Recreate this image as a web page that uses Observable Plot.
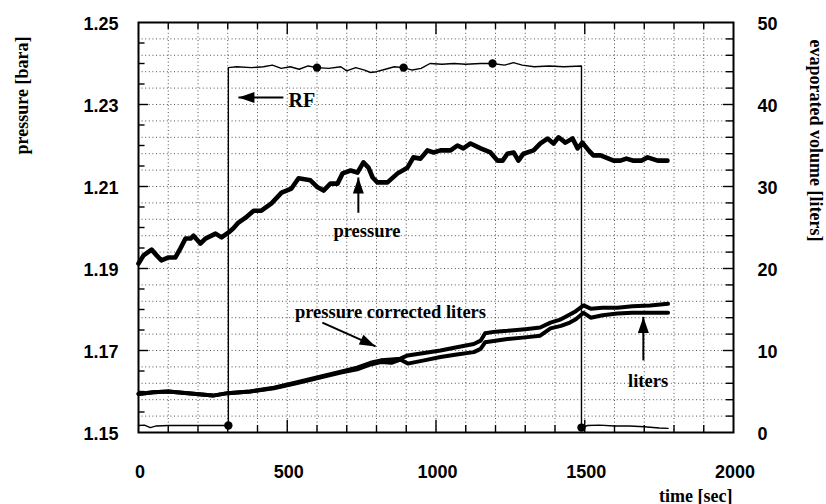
<!DOCTYPE html>
<html><head><meta charset="utf-8">
<script src="https://cdn.jsdelivr.net/npm/d3@7"></script>
<script src="https://cdn.jsdelivr.net/npm/@observablehq/plot@0.6"></script>
<style>body{margin:0;background:#fff}</style>
</head><body><div id="chart"></div><script>
// ---- data ----
const timeTickLabels = [0, 500, 1000, 1500, 2000];
const pressureTickLabels = [1.15, 1.17, 1.19, 1.21, 1.23, 1.25];
const volumeTickLabels = [0, 10, 20, 30, 40, 50];

const pressureTime = [0, 17, 44, 61, 77, 101, 124, 141, 158, 175, 185, 208, 225, 259, 279, 303, 319, 336, 360, 387, 413, 447, 481, 514, 538, 578, 602, 622, 645, 669, 686, 713, 736, 756, 773, 787, 803, 837, 871, 904, 924, 948, 971, 992, 1015, 1049, 1072, 1092, 1116, 1150, 1183, 1207, 1224, 1240, 1261, 1277, 1294, 1328, 1351, 1375, 1395, 1412, 1435, 1459, 1476, 1492, 1513, 1529, 1553, 1597, 1620, 1640, 1664, 1690, 1711, 1745, 1778];
const pressureBara = [1.1912, 1.1932, 1.1946, 1.1932, 1.1920, 1.1927, 1.1927, 1.1949, 1.1973, 1.1973, 1.1980, 1.1961, 1.1973, 1.1985, 1.1976, 1.1988, 1.1998, 1.2012, 1.2024, 1.2041, 1.2041, 1.2059, 1.2085, 1.2095, 1.2120, 1.2115, 1.2098, 1.2090, 1.2107, 1.2107, 1.2132, 1.2139, 1.2134, 1.2159, 1.2146, 1.2122, 1.2110, 1.2110, 1.2132, 1.2146, 1.2171, 1.2168, 1.2188, 1.2183, 1.2188, 1.2188, 1.2200, 1.2193, 1.2205, 1.2193, 1.2183, 1.2163, 1.2163, 1.2180, 1.2183, 1.2163, 1.2180, 1.2188, 1.2205, 1.2217, 1.2205, 1.2220, 1.2207, 1.2217, 1.2193, 1.2207, 1.2188, 1.2176, 1.2176, 1.2163, 1.2163, 1.2168, 1.2163, 1.2163, 1.2171, 1.2163, 1.2163];

const litersTime = [0, 50, 100, 175, 250, 300, 375, 455, 530, 610, 680, 735, 780, 815, 850, 880, 905, 960, 1015, 1070, 1127, 1150, 1165, 1200, 1240, 1300, 1350, 1385, 1420, 1450, 1470, 1496, 1520, 1560, 1610, 1660, 1720, 1780];
const correctedLiters = [4.7, 4.9, 5.0, 4.75, 4.5, 4.8, 5.0, 5.45, 6.1, 6.8, 7.4, 7.9, 8.5, 8.8, 8.9, 9.0, 9.4, 9.7, 10.0, 10.4, 10.8, 11.2, 12.1, 12.3, 12.4, 12.6, 12.8, 13.4, 13.8, 14.4, 14.8, 15.5, 15.1, 15.2, 15.2, 15.4, 15.5, 15.7];
const liters = [4.7, 4.9, 5.0, 4.75, 4.5, 4.8, 5.0, 5.4, 6.0, 6.7, 7.3, 7.7, 8.3, 8.6, 8.5, 8.9, 8.4, 8.8, 9.2, 9.5, 9.8, 10.2, 11.0, 11.2, 11.4, 11.6, 11.8, 12.7, 13.0, 13.4, 13.8, 14.6, 14.0, 14.3, 14.5, 14.6, 14.6, 14.6];

const rfTime = [0, 20, 40, 60, 100, 200, 302, 302, 330, 380, 420, 450, 480, 510, 540, 570, 600, 640, 680, 700, 730, 760, 780, 800, 830, 860, 891, 920, 950, 980, 1020, 1060, 1100, 1150, 1190, 1230, 1260, 1290, 1330, 1380, 1430, 1489, 1489, 1510, 1550, 1600, 1650, 1700, 1750, 1780];
const rfLevel = [0.85, 0.9, 0.6, 0.8, 0.85, 0.85, 0.85, 44.5, 44.6, 44.5, 44.6, 44.8, 44.4, 44.6, 44.3, 44.7, 44.5, 44.4, 44.6, 44.1, 44.5, 44.2, 43.9, 44.0, 44.3, 44.6, 44.5, 44.2, 44.4, 45.0, 44.9, 45.0, 44.9, 45.0, 45.0, 44.8, 45.1, 44.8, 44.6, 44.7, 44.6, 44.7, 0.6, 0.85, 0.9, 0.8, 0.8, 0.7, 0.55, 0.5];
const rfMarkTime = [302, 600, 891, 1190, 1489];
const rfMarkLevel = [0.85, 44.5, 44.5, 45.0, 0.6];

// annotations (data coordinates: time, liters)
const noteLabels = ["RF", "pressure", "pressure corrected liters", "liters"];
const noteTime = [504, 768, 847, 1713];
const noteLevel = [40.5, 23.8, 14.0, 5.5];
const arrowFromTime = [487, 739, 618, 1697];
const arrowFromLevel = [40.85, 26.8, 13.4, 8.8];
const arrowToTime = [336, 739, 797, 1697];
const arrowToLevel = [40.85, 31.1, 10.5, 14.1];
const arrowAngle = [-90, 0, 115, 0];

// ---- helpers ----
const P0 = 1.15, P1 = 1.25, V1 = 50;
const pToV = p => (p - P0) / (P1 - P0) * V1;   // pressure -> right-axis units

const pressure = pressureTime.map((t, i) => ({t, v: pToV(pressureBara[i])}));
const corr = litersTime.map((t, i) => ({t, v: correctedLiters[i]}));
const lit = litersTime.map((t, i) => ({t, v: liters[i]}));
const rf = rfTime.map((t, i) => ({t, v: rfLevel[i]}));
const rfMarks = rfMarkTime.map((t, i) => ({t, v: rfMarkLevel[i]}));
const notes = noteLabels.map((s, i) => ({s, t: noteTime[i], v: noteLevel[i]}));
const arrows = arrowFromTime.map((t, i) => ({t1: t, v1: arrowFromLevel[i], t2: arrowToTime[i], v2: arrowToLevel[i], a: arrowAngle[i]}));

const xMinor = d3.range(1, 20).map(i => i * 100);
const yGrid = d3.range(1, 25).map(i => i * 2);
const leftMinor = d3.range(1, 20).map(i => i * 2.5);

const head = {draw(ctx) { ctx.moveTo(0, 0); ctx.lineTo(5.5, 16); ctx.lineTo(-5.5, 16); ctx.closePath(); }};

const serif = "Liberation Serif, Times New Roman, serif";
const sans = "Liberation Sans, Arial, sans-serif";
const grid = {stroke: "#333", strokeDasharray: "1,2.6", strokeWidth: 1, strokeOpacity: 0.85};
const tk = {stroke: "black", strokeWidth: 1.4};
const tickFont = {fontFamily: sans, fontSize: 18, fontWeight: "bold", fill: "black"};

const chart = Plot.plot({
  width: 826, height: 504,
  marginLeft: 138, marginRight: 93, marginTop: 22, marginBottom: 72,
  style: {background: "white", fontFamily: serif},
  x: {domain: [0, 2000], axis: null},
  y: {domain: [0, V1], axis: null},
  marks: [
    Plot.ruleX(xMinor, {x: d => d, ...grid}),
    Plot.ruleY(yGrid, {y: d => d, ...grid}),
    // inward ticks
    Plot.ruleX(xMinor, {x: d => d, y1: 0, y2: d => d % 500 === 0 ? 1.5 : 0.85, ...tk}),
    Plot.ruleX(xMinor, {x: d => d, y1: V1, y2: d => V1 - (d % 500 === 0 ? 1.5 : 0.85), ...tk}),
    Plot.ruleY(leftMinor, {y: d => d, x1: 0, x2: d => d % 10 === 0 ? 34 : 22, ...tk}),
    Plot.ruleY(yGrid, {y: d => d, x1: 2000, x2: d => 2000 - (d % 10 === 0 ? 34 : 24), ...tk}),
    Plot.frame({stroke: "black", strokeWidth: 2}),
    // tick labels
    Plot.text(timeTickLabels, {x: d => d, text: d => String(d), frameAnchor: "bottom", dy: 45, dx: 1.5, lineAnchor: "bottom", ariaLabel: "ticklabels", ...tickFont}),
    Plot.text(pressureTickLabels, {y: d => pToV(d), text: d => d.toFixed(2), frameAnchor: "left", dx: -20, dy: 2, textAnchor: "end", lineAnchor: "middle", ariaLabel: "ticklabels", ...tickFont}),
    Plot.text(volumeTickLabels, {y: d => d, text: d => String(d), frameAnchor: "right", dx: 24, dy: 2, textAnchor: "start", lineAnchor: "middle", ariaLabel: "ticklabels", ...tickFont}),
    // axis titles
    Plot.text(["pressure [bara]"], {text: d => d, frameAnchor: "top-left", dx: -116, dy: 73, rotate: -90, textAnchor: "middle", lineAnchor: "middle", fontFamily: serif, fontSize: 18, fontWeight: "bold"}),
    Plot.text(["evaporated volume [liters]"], {text: d => d, frameAnchor: "top-right", dx: 82, dy: 118, rotate: 90, textAnchor: "middle", lineAnchor: "middle", fontFamily: serif, fontSize: 18, fontWeight: "bold"}),
    Plot.text(["time [sec]"], {text: d => d, frameAnchor: "bottom-right", dx: -1, dy: 69, textAnchor: "end", lineAnchor: "bottom", fontFamily: serif, fontSize: 18, fontWeight: "bold"}),
    // data
    Plot.line(rf, {x: "t", y: "v", stroke: "black", strokeWidth: 1.4}),
    Plot.dot(rfMarks, {x: "t", y: "v", r: 4.2, fill: "black", stroke: "none"}),
    Plot.line(corr, {x: "t", y: "v", stroke: "black", strokeWidth: 4, strokeLinejoin: "round"}),
    Plot.line(lit, {x: "t", y: "v", stroke: "black", strokeWidth: 4, strokeLinejoin: "round"}),
    Plot.line(pressure, {x: "t", y: "v", stroke: "black", strokeWidth: 4.6, strokeLinejoin: "round"}),
    // annotations
    Plot.link(arrows, {x1: "t1", y1: "v1", x2: "t2", y2: "v2", stroke: "black", strokeWidth: 2}),
    Plot.dot(arrows, {x: "t2", y: "v2", symbol: head, rotate: "a", r: 5, fill: "black", stroke: "none"}),
    Plot.text(notes.slice(0, 1), {x: "t", y: "v", text: "s", textAnchor: "start", lineAnchor: "middle", fontFamily: serif, fontSize: 20, fontWeight: "bold"}),
    Plot.text(notes.slice(1), {x: "t", y: "v", text: "s", textAnchor: "middle", lineAnchor: "bottom", fontFamily: serif, fontSize: 18.5, fontWeight: "bold"})
  ]
});
d3.select(chart).selectAll('g[aria-label="ticklabels"]').attr("letter-spacing", 3);
document.getElementById("chart").appendChild(chart);
</script></body></html>
